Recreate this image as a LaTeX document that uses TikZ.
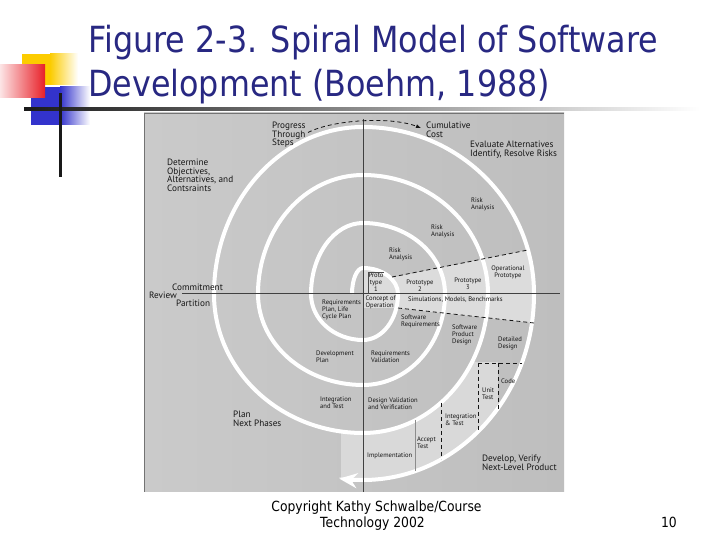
\documentclass[tikz,border=0pt]{standalone}
\usepackage{fontspec}
\usepackage{graphicx}
\usetikzlibrary{arrows.meta}
\newfontfamily\slidefont{DejaVu Sans}
\newfontfamily\figfont{PT Sans}
\definecolor{titleblue}{RGB}{40,40,130}
\definecolor{bgl}{HTML}{CACACA}
\definecolor{bgr}{HTML}{BEBEBE}
\definecolor{litegray}{HTML}{DCDCDC}
\definecolor{lite2}{HTML}{D9D9D9}
\definecolor{sqyellow}{RGB}{252,204,0}
\definecolor{sqblue}{RGB}{51,51,204}
\definecolor{sqred}{RGB}{232,32,40}
\definecolor{inkc}{HTML}{151515}
\newcommand{\tah}[1]{\scalebox{0.883}[1]{#1}}
\begin{document}
\begin{tikzpicture}[x=1pt,y=1pt,
  biglab/.style={font=\figfont\fontsize{9.2pt}{8.8pt}\selectfont, align=left, anchor=north west, inner sep=0pt, text=inkc},
  smalllab/.style={font=\figfont\fontsize{6.6pt}{7pt}\selectfont, align=left, anchor=north west, inner sep=0pt, text=inkc},
  smallc/.style={smalllab, align=center, anchor=north},
  titletext/.style={anchor=base west, inner sep=0pt, font=\slidefont\fontsize{36pt}{43pt}\selectfont, text=titleblue},
  foottext/.style={anchor=base, inner sep=0pt, font=\slidefont\fontsize{14pt}{16pt}\selectfont, text=black},
  spiralline/.style={draw=white, line width=4pt},
  dashline/.style={draw=inkc, line width=0.8pt, dash pattern=on 4pt off 3pt},
  axisline/.style={draw=black!75, line width=1pt}]
\useasboundingbox (0,0) rectangle (720,540);
\fill[white] (0,0) rectangle (720,540);
% slide decoration
\fill[sqyellow] (22,455) rectangle (50,486);
\shade[left color=sqyellow, right color=white] (50,455) rectangle (78,486);
\fill[sqblue] (31,415) rectangle (60,453);
\shade[left color=sqblue, right color=white] (60,415) rectangle (90,453);
\shade[left color=sqred!12!white, right color=sqred] (0,442) rectangle (45,475);
\shade[left color=black!90, right color=white] (24,429.3) rectangle (700,432.7);
\fill[black!90] (58.5,363) rectangle (61.5,447);
% title
\node[titletext] (t1) at (88,487) {\tah{Figure 2-3. Spiral Model of Software}};
\node[titletext] (t2) at (88,443) {\tah{Development (Boehm, 1988)}};
% figure frame
\shade[left color=bgl, right color=bgr] (144,48) rectangle (564,427);
\draw[black!55, line width=0.8pt] (144.4,48) -- (144.4,426.6) -- (564,426.6);
% light areas
\fill[litegray] (363,272) -- (380,268.7) -- (390,262) -- (528,290) -- (533,268) -- (535,246) -- (533,217) -- (396,232) -- (363,232) -- cycle;
\begin{scope}
\clip (341,40) rectangle (498,177);
\fill[lite2] (363,107) arc[start angle=-90,end angle=0,x radius=125,y radius=139] -- (534,246)
  arc[start angle=0,end angle=-90,x radius=171,y radius=186]
  arc[start angle=-90,end angle=-105,x radius=195,y radius=186] -- (324.4,111.7)
  arc[start angle=-105,end angle=-90,x radius=149,y radius=139] -- cycle;
\end{scope}
% spiral
\draw[spiralline, -{Stealth[length=18pt,width=15pt,inset=6pt]}] (352,246)
  arc[start angle=180,end angle=90,x radius=11,y radius=26]
  arc[start angle=90,end angle=0,x radius=35,y radius=26]
  arc[start angle=0,end angle=-90,x radius=35,y radius=46]
  arc[start angle=-90,end angle=-180,x radius=52,y radius=46]
  arc[start angle=180,end angle=90,x radius=52,y radius=71]
  arc[start angle=90,end angle=0,x radius=82,y radius=71]
  arc[start angle=0,end angle=-90,x radius=82,y radius=91]
  arc[start angle=-90,end angle=-180,x radius=105,y radius=91]
  arc[start angle=180,end angle=90,x radius=105,y radius=119]
  arc[start angle=90,end angle=0,x radius=125,y radius=119]
  arc[start angle=0,end angle=-90,x radius=125,y radius=139]
  arc[start angle=-90,end angle=-180,x radius=149,y radius=139]
  arc[start angle=180,end angle=90,x radius=149,y radius=167]
  arc[start angle=90,end angle=0,x radius=171,y radius=167]
  arc[start angle=0,end angle=-90,x radius=171,y radius=186]
  arc[start angle=-90,end angle=-97,x radius=195,y radius=186];
% dashed dividers
\draw[dashline] (392,263) -- (528,290);
\draw[dashline] (398,232) -- (534,217);
\draw[dashline] (478,177) -- (522,177);
\draw[dashline] (478,177) -- (478,110);
\draw[dashline] (498,177) -- (498,130);
\draw[dashline] (441,137) -- (441,81);
\draw[black!45, line width=0.6pt] (415,120) -- (415,69);
% labels
\node[biglab] (prog) at (272,418.5) {Progress\\Through\\Steps};
\node[biglab] (det) at (167,381.5) {Determine\\Objectives,\\Alternatives, and\\Contsraints};
\node[biglab] (cum) at (426,418.5) {Cumulative\\Cost};
\node[biglab] (eval) at (470,399.5) {Evaluate Alternatives\\Identify, Resolve Risks};
\node[biglab] (commit) at (172,256.5) {Commitment};
\node[biglab] (review) at (149,248.5) {Review};
\node[biglab] (part) at (176,240.5) {Partition};
\node[biglab] (plan) at (233,129.5) {Plan\\Next Phases};
\node[biglab] (dev) at (482,85.5) {Develop, Verify\\Next-Level Product};
\node[smalllab] (ra1) at (471,342.5) {Risk\\Analysis};
\node[smalllab] (ra2) at (431,315.5) {Risk\\Analysis};
\node[smalllab] (ra3) at (389,292.5) {Risk\\Analysis};
\node[smallc] (op) at (508,274.5) {Operational\\Prototype};
\node[smallc] (p3) at (468,262.5) {Prototype\\3};
\node[smallc] (p2) at (420,260.5) {Prototype\\2};
\node[smallc] (p1) at (376,267.5) {Proto\\type\\1};
\node[smalllab] (rp) at (322,240.5) {Requirements\\Plan, Life\\Cycle Plan};
\node[smalllab] (co) at (365.5,244.5) {Concept of\\Operation};
\node[smalllab] (sim) at (408,243.5) {Simulations, Models, Benchmarks};
\node[smalllab] (sr) at (401,225.5) {Software\\Requirements};
\node[smalllab] (spd) at (452,215.5) {Software\\Product\\Design};
\node[smalllab] (dd) at (498,203.5) {Detailed\\Design};
\node[smalllab] (rv) at (371,189.5) {Requirements\\Validation};
\node[smalllab] (dp) at (316,189.5) {Development\\Plan};
\node[smalllab] (it1) at (320,143.5) {Integration\\and Test};
\node[smalllab] (dvv) at (368,142.5) {Design Validation\\and Verification};
\node[smalllab] (code) at (501,161.5) {Code};
\node[smalllab] (ut) at (482,152.5) {Unit\\Test};
\node[smalllab] (it2) at (445,126.5) {Integration\\\& Test};
\node[smalllab] (at) at (417,103.5) {Accept\\Test};
\node[smalllab] (impl) at (367,87.5) {Implementation};
% axes
\coordinate (axl) at (182,246);
\coordinate (axr) at (560,246);
\coordinate (axt) at (363,421);
\coordinate (axb) at (363,48);
\draw[axisline] (axl) -- (axr);
\draw[axisline] (axt) -- (axb);
\draw[black!70, line width=0.6pt] (368,246) -- (368,268) -- (384,268);
% progress arrow
\coordinate (ps) at (308,407.5);
\coordinate (pe) at (421,412);
\draw[dashline, -{Latex[length=5pt,width=4pt]}] (ps) .. controls (332,420) and (390,424) .. (pe);
% footer
\node[foottext] (c1) at (376.5,28) {\tah{Copyright Kathy Schwalbe/Course}};
\node[foottext] (c2) at (372.5,12) {\tah{Technology 2002}};
\node[foottext, anchor=base east] (pgno) at (677,12) {\tah{10}};
\end{tikzpicture}
\end{document}
